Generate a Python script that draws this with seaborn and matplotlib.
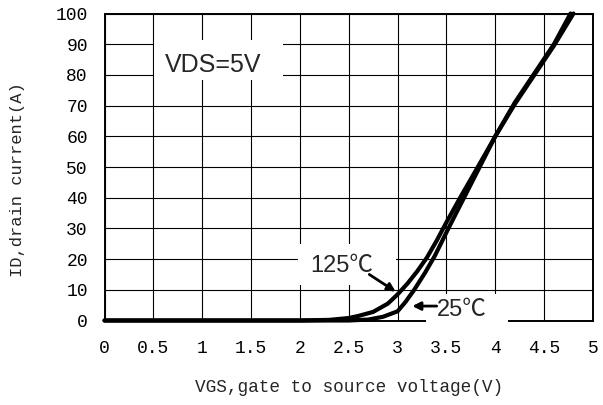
import matplotlib
matplotlib.use("Agg")
import matplotlib.pyplot as plt
from matplotlib.patches import Rectangle
import numpy as np
import pandas as pd
import seaborn as sns

# Transfer characteristics: drain current vs gate-source voltage
vgs_125 = [0.0, 2.0, 2.3, 2.5, 2.6, 2.75, 2.9, 3.0, 3.1, 3.2, 3.3, 3.4, 3.5, 3.64, 3.83, 4.0, 4.2, 4.4, 4.6, 4.77]
id_125 = [0.0, 0.0, 0.2, 0.8, 1.5, 2.8, 5.5, 8.5, 12.0, 16.0, 20.5, 26.0, 32.0, 40.0, 50.5, 60.0, 71.0, 80.5, 90.0, 100.0]

vgs_25 = [0.0, 2.5, 2.7, 2.85, 3.0, 3.08, 3.17, 3.28, 3.38, 3.52, 3.68, 3.84, 4.0, 4.2, 4.4, 4.6, 4.8]
id_25 = [0.0, 0.0, 0.3, 1.2, 3.0, 6.0, 10.0, 15.5, 21.0, 30.0, 40.0, 50.0, 60.0, 70.5, 80.0, 89.5, 100.0]

temps = ["125℃", "25℃"]
x_ticks = [0, 0.5, 1, 1.5, 2, 2.5, 3, 3.5, 4, 4.5, 5]
x_tick_labels = ["0", "0.5", "1", "1.5", "2", "2.5", "3", "3.5", "4", "4.5", "5"]
y_ticks = [0, 10, 20, 30, 40, 50, 60, 70, 80, 90, 100]

df = pd.concat([
    pd.DataFrame({"VGS": vgs_125, "ID": id_125, "T": temps[0]}),
    pd.DataFrame({"VGS": vgs_25, "ID": id_25, "T": temps[1]}),
])

sns.set_style("white")
plt.rcParams["font.family"] = ["Liberation Mono", "DejaVu Sans"]

fig = plt.figure(figsize=(6.03, 4.05), dpi=100)
W, H = 603, 405
left, right, top, bottom = 104.5, 593, 13.5, 320.5
ax = fig.add_axes([left / W, 1 - bottom / H, (right - left) / W, (bottom - top) / H])

sns.lineplot(data=df, x="VGS", y="ID", hue="T", palette={t: "black" for t in temps},
             estimator=None, sort=False, linewidth=3.0, legend=False, ax=ax,
             clip_on=False, zorder=3)

ax.set_xlim(0, 5)
ax.set_ylim(0, 100)
ax.set_xticks(x_ticks)
ax.set_xticklabels(x_tick_labels)
ax.set_yticks(y_ticks)
ax.tick_params(axis="both", length=0, labelsize=13, colors="black")
ax.tick_params(axis="x", pad=14)
ax.tick_params(axis="y", pad=12)
ax.grid(True, color="black", linewidth=0.8)
ax.set_axisbelow(True)
for s in ax.spines.values():
    s.set_color("black")
    s.set_linewidth(1.4)

ax.set_xlabel("VGS,gate to source voltage(V)", fontsize=12.8, labelpad=16)
ax.set_ylabel("ID,drain current(A)", fontsize=12.3)
ax.yaxis.set_label_coords((25 - left) / (right - left), (bottom - 180) / (bottom - top))

label_font = ["Liberation Sans", "Noto Sans CJK SC"]

# VDS condition box
ax.add_patch(Rectangle((0.51, 78.5), 1.32, 13.0, facecolor="white", edgecolor="none", zorder=2.6))
ax.text(1.11, 83.3, "VDS=5V", fontsize=18, family=label_font, ha="center", va="center", zorder=4)

# 125 ℃ label
ax.add_patch(Rectangle((1.98, 11.7), 1.0, 13.1, facecolor="white", edgecolor="none", zorder=2.6))
ax.text(2.43, 17.8, "125℃", fontsize=17, family=label_font, ha="center", va="center", zorder=4)
ax.annotate("", xy=(2.98, 9.4), xytext=(2.71, 15.0),
            arrowprops=dict(arrowstyle="-|>", color="black", lw=2, mutation_scale=12,
                            shrinkA=0, shrinkB=0), zorder=5)

# 25 ℃ label (box sits over the bottom frame)
ax.add_patch(Rectangle((3.29, -3.8), 0.84, 12.5, facecolor="white", edgecolor="none",
                       zorder=2.7, clip_on=False))
ax.text(3.66, 3.4, "25℃", fontsize=17, family=label_font, ha="center", va="center", zorder=4)
ax.annotate("", xy=(3.15, 4.7), xytext=(3.40, 4.7),
            arrowprops=dict(arrowstyle="-|>", color="black", lw=2, mutation_scale=12,
                            shrinkA=0, shrinkB=0), zorder=5)

fig.savefig("out.png", dpi=100)
